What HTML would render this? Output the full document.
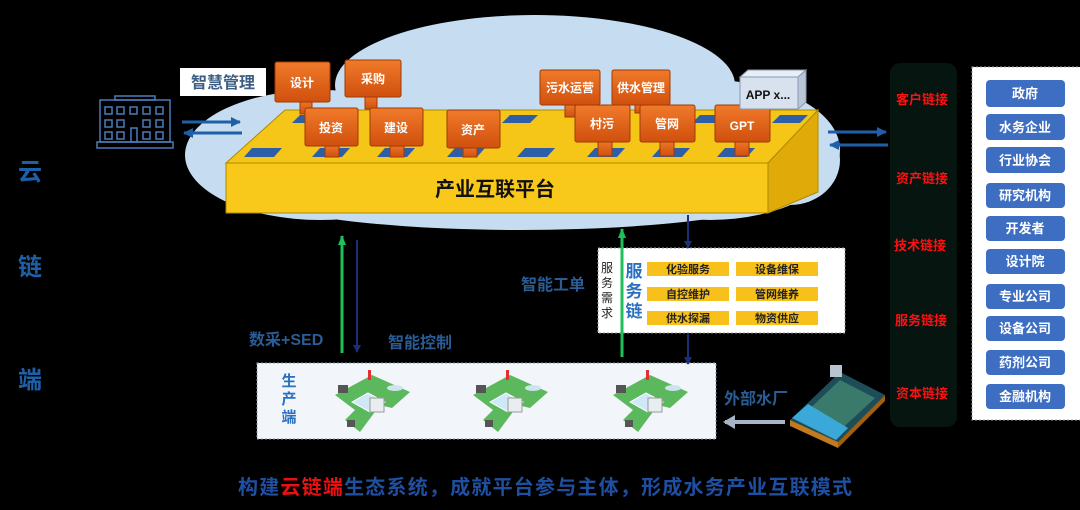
<!DOCTYPE html>
<html><head><meta charset="utf-8"><style>
html,body{margin:0;padding:0;background:#000;}
svg{display:block;font-family:"Liberation Sans","Noto Sans CJK SC",sans-serif;}
</style></head><body>
<svg width="1080" height="510" viewBox="0 0 1080 510" xmlns="http://www.w3.org/2000/svg">
<defs>
<linearGradient id="og" x1="0" y1="0" x2="0" y2="1"><stop offset="0" stop-color="#f07a2a"/><stop offset="1" stop-color="#d0500e"/></linearGradient>
<marker id="ab" markerUnits="userSpaceOnUse" markerWidth="10" markerHeight="10" refX="9" refY="5" orient="auto"><path d="M0,0 L10,5 L0,10 z" fill="#1f5fa8"/></marker>
<marker id="an" markerUnits="userSpaceOnUse" markerWidth="8" markerHeight="10" refX="7" refY="5" orient="auto"><path d="M0,1 L8,5 L0,9 z" fill="#1a2f7a"/></marker>
<marker id="ag" markerUnits="userSpaceOnUse" markerWidth="10" markerHeight="10" refX="9" refY="5" orient="auto"><path d="M0,1 L10,5 L0,9 z" fill="#1fc05a"/></marker>
<marker id="agr" markerUnits="userSpaceOnUse" markerWidth="12" markerHeight="14" refX="10" refY="7" orient="auto"><path d="M0,0 L12,7 L0,14 z" fill="#a8b4c4"/></marker>
</defs>
<rect width="1080" height="510" fill="#000"/>
<!-- cloud -->
<g fill="#c6dcf1">
<ellipse cx="535" cy="85" rx="200" ry="70"/>
<ellipse cx="320" cy="155" rx="135" ry="65"/>
<ellipse cx="710" cy="150" rx="130" ry="70"/>
<ellipse cx="520" cy="180" rx="300" ry="50"/>
<ellipse cx="790" cy="160" rx="50" ry="45"/>
</g>
<!-- platform -->
<polygon points="285,110 818,110 768,163 226,163" fill="#f5c518" stroke="#b08a00"/>
<polygon points="768,163 818,110 818,192 768,213" fill="#e0aa08" stroke="#b08a00"/>
<rect x="226" y="163" width="542" height="50" fill="#f8c81a" stroke="#b08a00"/>
<text x="495" y="196" font-size="20" font-weight="bold" text-anchor="middle" fill="#111">产业互联平台</text>
<g fill="#2c5fa8">
<polygon points="300,115 328,115 320,123 292,123"/><polygon points="510,115 538,115 530,123 502,123"/><polygon points="700,115 728,115 720,123 692,123"/><polygon points="780,115 808,115 800,123 772,123"/>
<polygon points="252,148 282,148 274,157 244,157"/><polygon points="320,148 350,148 342,157 312,157"/><polygon points="385,148 415,148 407,157 377,157"/><polygon points="455,148 485,148 477,157 447,157"/><polygon points="525,148 555,148 547,157 517,157"/><polygon points="595,148 625,148 617,157 587,157"/><polygon points="660,148 690,148 682,157 652,157"/><polygon points="725,148 755,148 747,157 717,157"/>
</g>
<!-- monitors -->
<g fill="url(#og)" stroke="#a03a05">
<rect x="300" y="100" width="12" height="14"/><rect x="365" y="95" width="12" height="14"/>
<rect x="325" y="143" width="14" height="14"/><rect x="390" y="143" width="14" height="14"/><rect x="463" y="145" width="14" height="12"/>
<rect x="565" y="103" width="12" height="14"/><rect x="635" y="103" width="12" height="10"/>
<rect x="598" y="140" width="14" height="16"/><rect x="660" y="140" width="14" height="16"/><rect x="735" y="140" width="14" height="16"/>
<rect x="275" y="62" width="55" height="40" rx="2"/><rect x="345" y="60" width="56" height="37" rx="2"/>
<rect x="305" y="108" width="53" height="38" rx="2"/><rect x="370" y="108" width="53" height="38" rx="2"/><rect x="447" y="110" width="53" height="38" rx="2"/>
<rect x="540" y="70" width="60" height="35" rx="2"/><rect x="612" y="70" width="58" height="35" rx="2"/>
<rect x="575" y="105" width="55" height="37" rx="2"/><rect x="640" y="105" width="55" height="37" rx="2"/><rect x="715" y="105" width="55" height="37" rx="2"/>
</g>
<g font-size="12" font-weight="bold" fill="#fff" text-anchor="middle">
<text x="302" y="87">设计</text><text x="373" y="83">采购</text>
<text x="331" y="132">投资</text><text x="396" y="132">建设</text><text x="473" y="134">资产</text>
<text x="570" y="92">污水运营</text><text x="641" y="92">供水管理</text>
<text x="602" y="128">村污</text><text x="667" y="128">管网</text><text x="742" y="130">GPT</text>
</g>
<!-- APP box -->
<polygon points="740,77 748,70 806,70 798,77" fill="#e8eef6" stroke="#8a9ab0"/>
<polygon points="798,77 806,70 806,102 798,109" fill="#b8c6d8" stroke="#8a9ab0"/>
<rect x="740" y="77" width="58" height="32" fill="#d8e2ee" stroke="#8a9ab0"/>
<text x="768" y="99" font-size="12" font-weight="bold" fill="#111" text-anchor="middle">APP x...</text>
<!-- 智慧管理 -->
<rect x="180" y="68" width="86" height="28" fill="#fff"/>
<text x="223" y="88" font-size="16" font-weight="bold" fill="#3d5f85" text-anchor="middle">智慧管理</text>
<!-- building -->
<g fill="none" stroke="#4a7cb8" stroke-width="1.5">
<rect x="100" y="100" width="70" height="42"/><rect x="115" y="96" width="40" height="4"/><rect x="97" y="142" width="76" height="6"/>
<rect x="105" y="107" width="7" height="7"/><rect x="117" y="107" width="7" height="7"/><rect x="130" y="107" width="7" height="7"/><rect x="143" y="107" width="7" height="7"/><rect x="156" y="107" width="7" height="7"/>
<rect x="105" y="120" width="7" height="7"/><rect x="117" y="120" width="7" height="7"/><rect x="143" y="120" width="7" height="7"/><rect x="156" y="120" width="7" height="7"/>
<rect x="105" y="132" width="7" height="7"/><rect x="117" y="132" width="7" height="7"/><rect x="131" y="128" width="6" height="14"/><rect x="143" y="132" width="7" height="7"/><rect x="156" y="132" width="7" height="7"/>
</g>
<g stroke="#1f5fa8" stroke-width="3">
<line x1="182" y1="122" x2="240" y2="122" marker-end="url(#ab)"/>
<line x1="242" y1="133" x2="184" y2="133" marker-end="url(#ab)"/>
<line x1="828" y1="132" x2="886" y2="132" marker-end="url(#ab)"/>
<line x1="888" y1="145" x2="830" y2="145" marker-end="url(#ab)"/>
</g>
<!-- left labels -->
<g font-size="24" font-weight="bold" fill="#1f5fa8" text-anchor="middle">
<text x="30" y="180">云</text><text x="30" y="275">链</text><text x="30" y="388">端</text>
</g>
<!-- links column -->
<rect x="890" y="63" width="67" height="364" rx="10" fill="#061510"/>
<g font-size="13" font-weight="bold" fill="#ff1010" text-anchor="middle">
<text x="922" y="104">客户链接</text><text x="922" y="183">资产链接</text><text x="920" y="250">技术链接</text><text x="921" y="325">服务链接</text><text x="922" y="398">资本链接</text>
</g>
<rect x="972" y="67" width="110" height="353" fill="#fff" stroke="#9aa" stroke-dasharray="2,2"/>
<g fill="#3e6ec2">
<rect x="986" y="80" width="79" height="27" rx="4"/><rect x="986" y="114" width="79" height="26" rx="4"/><rect x="986" y="147" width="79" height="26" rx="4"/><rect x="986" y="183" width="79" height="25" rx="4"/><rect x="986" y="216" width="79" height="25" rx="4"/><rect x="986" y="249" width="79" height="25" rx="4"/><rect x="986" y="284" width="79" height="25" rx="4"/><rect x="986" y="316" width="79" height="25" rx="4"/><rect x="986" y="350" width="79" height="25" rx="4"/><rect x="986" y="384" width="79" height="25" rx="4"/>
</g>
<g font-size="13" font-weight="bold" fill="#fff" text-anchor="middle">
<text x="1025" y="98">政府</text><text x="1025" y="132">水务企业</text><text x="1025" y="165">行业协会</text><text x="1025" y="200">研究机构</text><text x="1025" y="233">开发者</text><text x="1025" y="266">设计院</text><text x="1025" y="301">专业公司</text><text x="1025" y="333">设备公司</text><text x="1025" y="367">药剂公司</text><text x="1025" y="401">金融机构</text>
</g>
<!-- service box -->
<rect x="598" y="248" width="247" height="85" fill="#fff" stroke="#999" stroke-dasharray="2,2"/>
<g font-size="12" fill="#222" text-anchor="middle"><text x="607" y="272">服</text><text x="607" y="287">务</text><text x="607" y="302">需</text><text x="607" y="317">求</text></g>
<g font-size="17" font-weight="bold" fill="#2a6fc0" text-anchor="middle"><text x="634" y="277">服</text><text x="634" y="297">务</text><text x="634" y="317">链</text></g>
<g fill="#f8c01a">
<rect x="647" y="262" width="82" height="14"/><rect x="736" y="262" width="82" height="14"/>
<rect x="647" y="287" width="82" height="14"/><rect x="736" y="287" width="82" height="14"/>
<rect x="647" y="311" width="82" height="14"/><rect x="736" y="311" width="82" height="14"/>
</g>
<g font-size="11" font-weight="bold" fill="#222" text-anchor="middle">
<text x="688" y="273">化验服务</text><text x="777" y="273">设备维保</text>
<text x="688" y="298">自控维护</text><text x="777" y="298">管网维养</text>
<text x="688" y="322">供水探漏</text><text x="777" y="322">物资供应</text>
</g>
<!-- production box -->
<rect x="257" y="363" width="459" height="76" fill="#f2f6fb" stroke="#8899aa" stroke-dasharray="2,2"/>
<g font-size="15" font-weight="bold" fill="#2a6fc0" text-anchor="middle"><text x="289" y="386">生</text><text x="289" y="404">产</text><text x="289" y="422">端</text></g>
<g id="pl">
<polygon points="335,395 372,375 410,392 392,408 380,405 360,432 345,420 355,410" fill="#5cb85c"/>
<polygon points="352,402 368,393 385,402 370,412" fill="#cfe8f8" stroke="#fff"/>
<rect x="370" y="398" width="14" height="14" fill="#e8eef0" stroke="#999"/>
<rect x="338" y="385" width="10" height="8" fill="#555"/>
<rect x="347" y="420" width="8" height="7" fill="#555"/>
<rect x="368" y="370" width="3" height="10" fill="#e03030"/>
<ellipse cx="395" cy="388" rx="8" ry="3" fill="#cde4f0"/>
</g>
<use href="#pl" x="138" y="0"/>
<use href="#pl" x="278" y="0"/>
<!-- external plant -->
<polygon points="790,420 840,372 885,395 838,442" fill="#1e4d5a"/>
<polygon points="800,418 840,380 875,398 836,434" fill="#3a7a6a"/>
<polygon points="790,420 838,442 838,448 790,426" fill="#c07a20"/>
<polygon points="838,442 885,395 885,401 838,448" fill="#a06010"/>
<polygon points="792,418 808,404 848,428 836,440" fill="#3aa8d8"/>
<rect x="830" y="365" width="12" height="12" fill="#b8c4d0"/>
<!-- arrows -->
<line x1="342" y1="353" x2="342" y2="236" stroke="#1fc05a" stroke-width="3" marker-end="url(#ag)"/>
<line x1="357" y1="240" x2="357" y2="352" stroke="#1a2f7a" stroke-width="2" marker-end="url(#an)"/>
<line x1="622" y1="357" x2="622" y2="229" stroke="#1fc05a" stroke-width="3" marker-end="url(#ag)"/>
<line x1="688" y1="215" x2="688" y2="248" stroke="#1a2f7a" stroke-width="2" marker-end="url(#an)"/>
<line x1="688" y1="333" x2="688" y2="364" stroke="#1a2f7a" stroke-width="2" marker-end="url(#an)"/>
<line x1="785" y1="422" x2="725" y2="422" stroke="#a8b4c4" stroke-width="4" marker-end="url(#agr)"/>
<g font-size="16" font-weight="bold" fill="#2a5c95">
<text x="249" y="345">数采+SED</text><text x="388" y="348">智能控制</text><text x="521" y="290">智能工单</text><text x="724" y="404">外部水厂</text>
</g>
<!-- caption -->
<text x="545" y="494" font-size="20" font-weight="bold" fill="#1f4fa0" text-anchor="middle" textLength="614" lengthAdjust="spacing">构建<tspan fill="#e81010">云链端</tspan>生态系统，成就平台参与主体，形成水务产业互联模式</text>
</svg>
</body></html>
